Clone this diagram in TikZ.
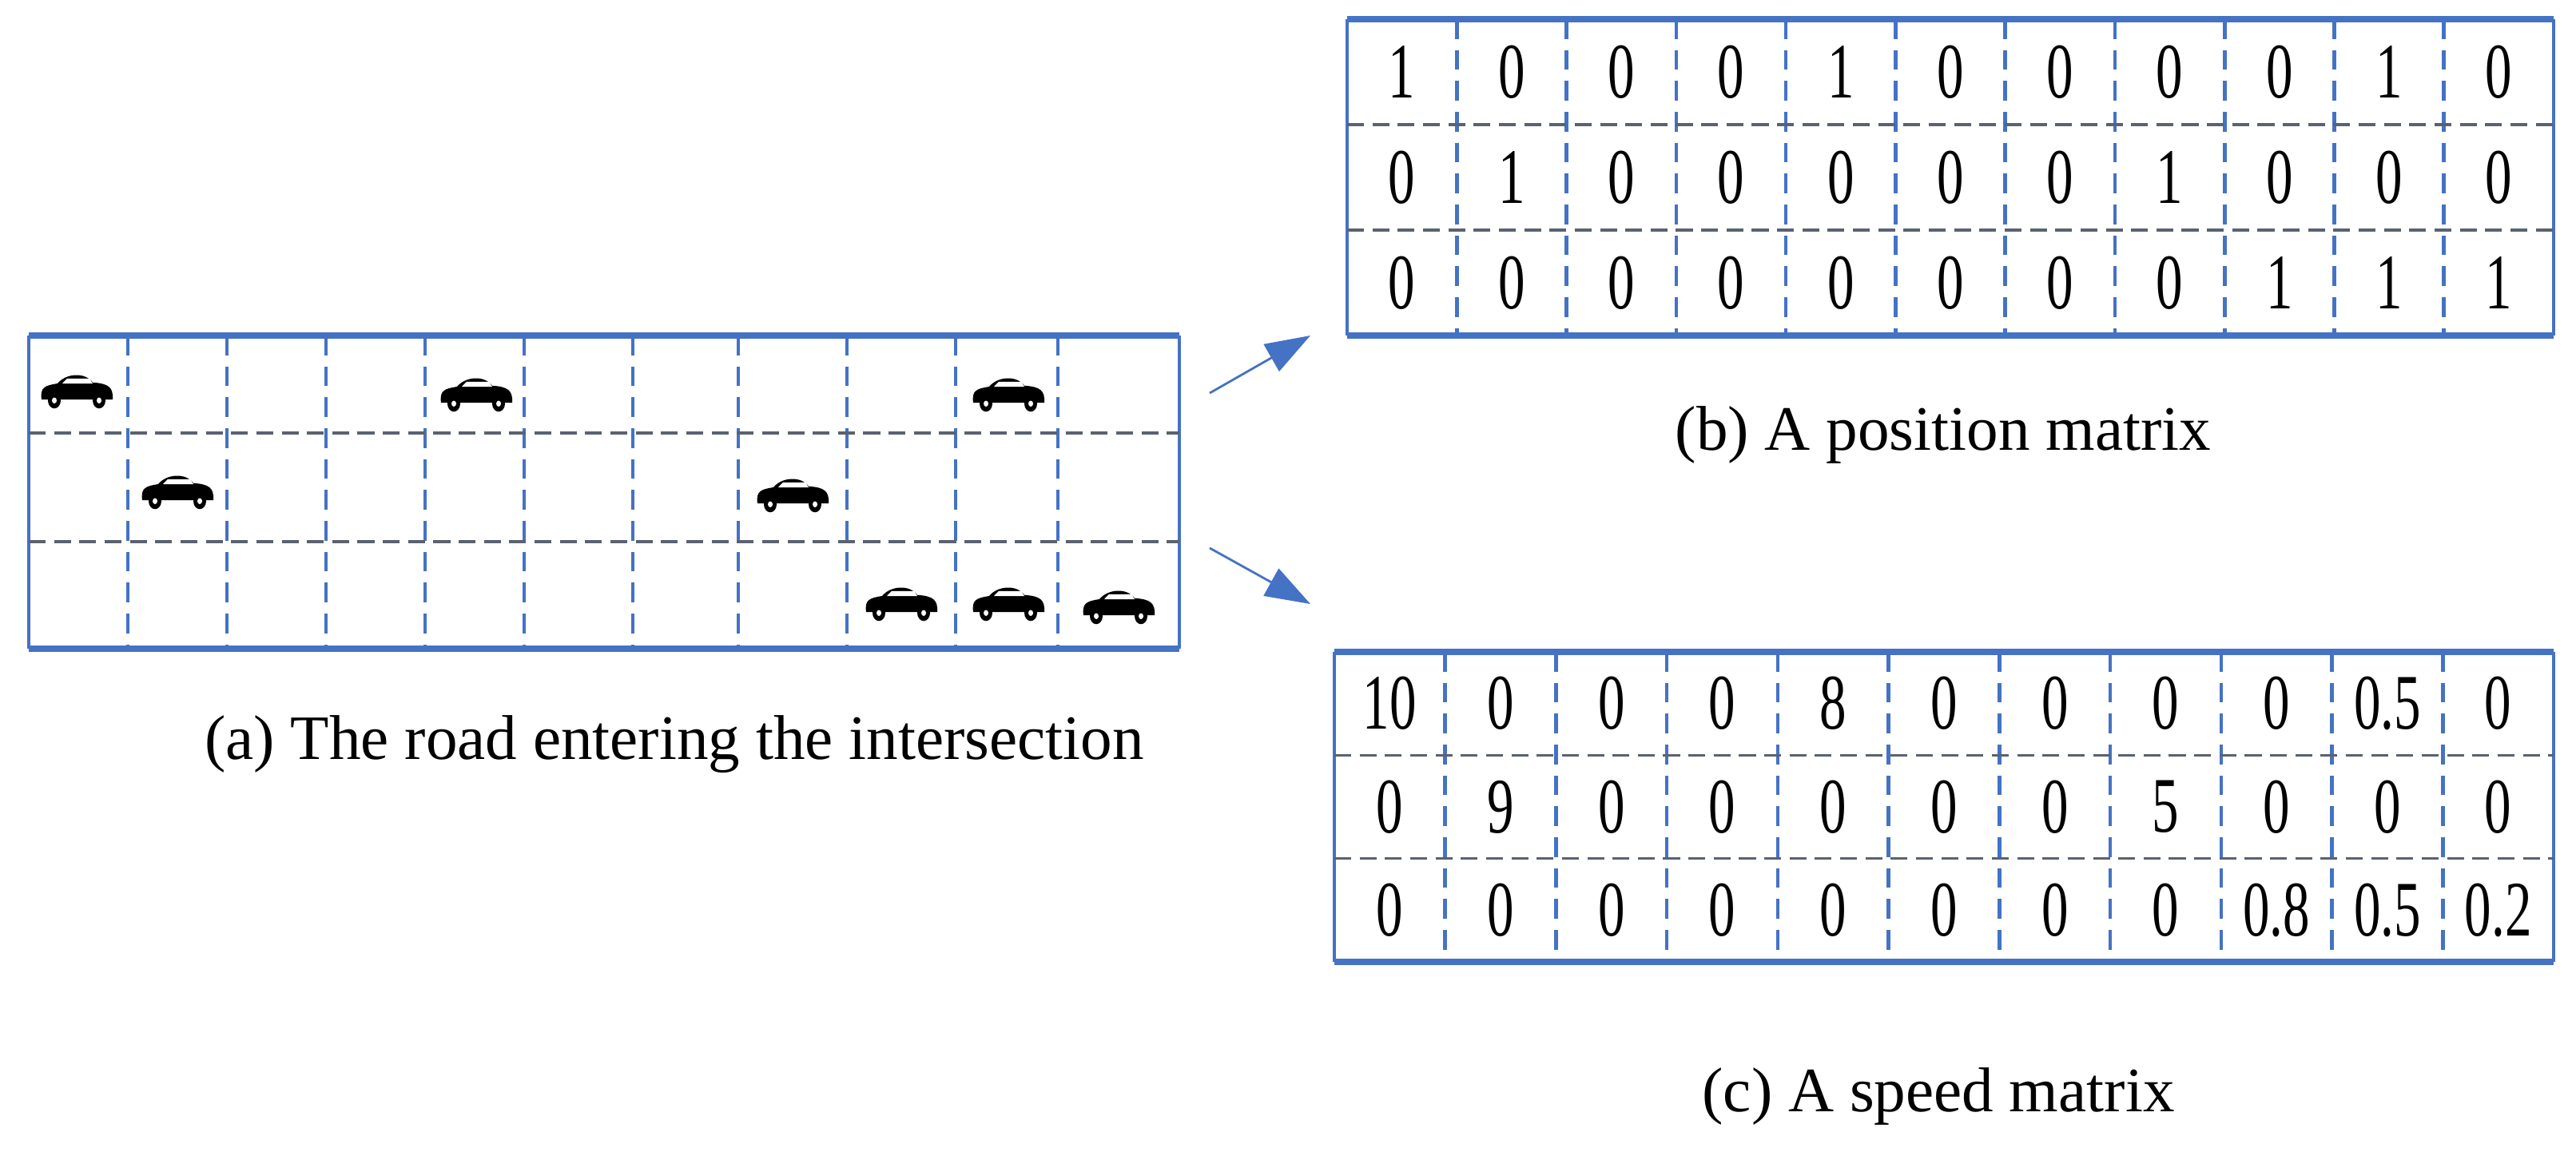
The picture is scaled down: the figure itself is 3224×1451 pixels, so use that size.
\documentclass[tikz,border=0pt]{standalone}
\usepackage{fontspec}
\setmainfont{Liberation Serif}
\usetikzlibrary{arrows.meta}
\definecolor{bl}{HTML}{4472C4}
\definecolor{gr}{HTML}{5A6270}
\begin{document}
\begin{tikzpicture}[x=0.01cm,y=-0.01cm,
  edge/.style={bl,line width=2.2pt},
  side/.style={bl,line width=1.2pt},
  vdash/.style={bl,line width=1.3pt,dash pattern=on 7pt off 4pt},
  hdash/.style={gr,line width=0.9pt,dash pattern=on 6pt off 3pt},
  num/.style={font=\fontsize{28}{30}\selectfont,xscale=0.68,inner sep=0},
  captxt/.style={font=\fontsize{22.5}{26}\selectfont},
  arr/.style={bl,line width=0.8pt,-{Triangle[length=16pt,width=11pt]}}]
\useasboundingbox (0,0) rectangle (3224,1451);
% ---- road grid
\draw[side] (36,420) -- (36,812) (1476,420) -- (1476,812);
\foreach \x in {160,284,408,532,656,792,924,1060,1196,1324} \draw[vdash] (\x,420) -- (\x,812);
\draw[hdash] (36,542) -- (1476,542) (36,678) -- (1476,678);
\draw[edge] (36,420) -- (1476,420) (36,812) -- (1476,812);
% cars
\newcommand{\mycar}[2]{%
 \begin{scope}[shift={(#1,#2)},yscale=1.25]
  \fill[black] (-44,8) .. controls (-46,-4) and (-40,-6) .. (-24,-8) .. controls (-14,-18) and (10,-20) .. (20,-9) .. controls (40,-8) and (46,-4) .. (45,8) -- cycle;
  \fill[white] (-12,-13) -- (16,-13) -- (20,-8) -- (-18,-8) -- cycle;
  \fill[black] (-28,9) circle (8) (28,9) circle (8);
  \fill[white] (-28,9) circle (3) (28,9) circle (3);
 \end{scope}}
\mycar{96}{490}
\mycar{596}{494}
\mycar{1262}{494}
\mycar{222}{616}
\mycar{992}{620}
\mycar{1128}{756}
\mycar{1262}{756}
\mycar{1400}{760}
\node[captxt] (ca) at (844,932) {(a) The road entering the intersection};
% ---- matrices
\newcommand{\mygrid}[4]{% x0 y0 x1 y1
 \draw[side] (#1,#2) -- (#1,#4) (#3,#2) -- (#3,#4);
 \foreach \i in {1,...,10} \draw[vdash] ({#1+\i*(#3-#1)/11},#2) -- ({#1+\i*(#3-#1)/11},#4);
 \draw[hdash] (#1,{#2+(#4-#2)/3}) -- (#3,{#2+(#4-#2)/3}) (#1,{#2+2*(#4-#2)/3}) -- (#3,{#2+2*(#4-#2)/3});
 \draw[edge] (#1,#2) -- (#3,#2) (#1,#4) -- (#3,#4);}
\mygrid{1686}{24}{3196}{420}
\mygrid{1670}{816}{3196}{1204}
% position matrix
\foreach \row [count=\r] in {{1,0,0,0,1,0,0,0,0,1,0},{0,1,0,0,0,0,0,1,0,0,0},{0,0,0,0,0,0,0,0,1,1,1}}{
  \foreach \v [count=\c] in \row
    \node[num] (p\r-\c) at ({1686+(\c-0.5)*1510/11},{24+(\r-0.5)*132}) {\v};}
% speed matrix
\foreach \row [count=\r] in {{10,0,0,0,8,0,0,0,0,0.5,0},{0,9,0,0,0,0,0,5,0,0,0},{0,0,0,0,0,0,0,0,0.8,0.5,0.2}}{
  \foreach \v [count=\c] in \row
    \node[num] (s\r-\c) at ({1670+(\c-0.5)*1526/11},{816+(\r-0.5)*129.3}) {\v};}
\node[captxt] (cb) at (2432,544) {(b) A position matrix};
\node[captxt] (cc) at (2426,1372) {(c) A speed matrix};
% arrows
\coordinate (a1) at (1514,492); \coordinate (b1) at (1640,420);
\coordinate (a2) at (1514,686); \coordinate (b2) at (1640,756);
\draw[arr] (a1) -- (b1);
\draw[arr] (a2) -- (b2);
\end{tikzpicture}
\end{document}
